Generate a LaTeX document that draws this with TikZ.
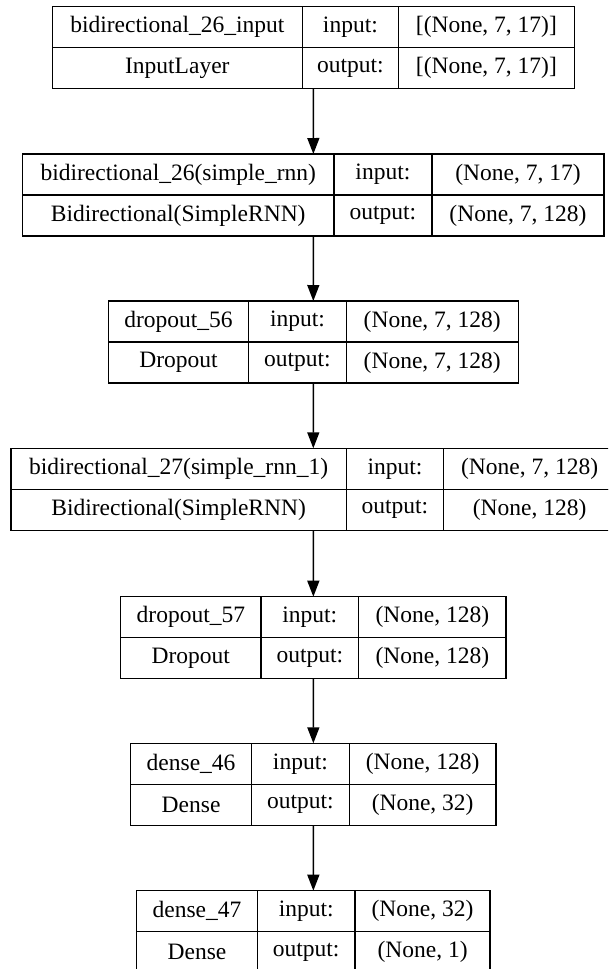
\documentclass[tikz,border=0pt]{standalone}
\usepackage{fontspec}
\setmainfont{Liberation Serif}
\newfontfamily\layerfont{LiberationSerif-Regular.ttf}
\usetikzlibrary{arrows.meta,fit,positioning}
\tikzset{
  cell/.style={draw,line width=1.4pt,minimum height=41pt,inner sep=0pt,outer sep=0pt},
  layerbox/.style={inner sep=0pt,outer sep=0pt},
  flow/.style={->,line width=1.4pt},
}
\begin{document}
\begin{tikzpicture}[x=1pt,y=-1pt,>={Triangle[length=16pt 0,width=12pt 0]},font=\layerfont\fontsize{23.5}{26}\selectfont,node distance=0pt]
    \clip (0,0) rectangle (608,969);
    \fill[white] (0,0) rectangle (608,969);
    % input layer
    \node[cell,anchor=north west,minimum width=250pt] (inpname) at (52.3,6.7) {bidirectional\_26\_input};
    \node[cell,minimum width=96.2pt,right=of inpname] (inpin) {input:};
    \node[cell,minimum width=175.8pt,right=of inpin] (inpishape) {[(None, 7, 17)]};
    \node[cell,minimum width=250pt,below=of inpname] (inpcls) {InputLayer};
    \node[cell,minimum width=96.2pt,below=of inpin] (inpout) {output:};
    \node[cell,minimum width=175.8pt,below=of inpishape] (inposhape) {[(None, 7, 17)]};
    \node[layerbox,fit=(inpname)(inposhape)] (inp) {};
    % bidirectional_26
    \node[cell,anchor=north west,minimum width=311.1pt] (bidaname) at (22.7,154) {bidirectional\_26(simple\_rnn)};
    \node[cell,minimum width=98.2pt,right=of bidaname] (bidain) {input:};
    \node[cell,minimum width=172pt,right=of bidain] (bidaishape) {(None, 7, 17)};
    \node[cell,minimum width=311.1pt,below=of bidaname] (bidacls) {Bidirectional(SimpleRNN)};
    \node[cell,minimum width=98.2pt,below=of bidain] (bidaout) {output:};
    \node[cell,minimum width=172pt,below=of bidaishape] (bidaoshape) {(None, 7, 128)};
    \node[layerbox,fit=(bidaname)(bidaoshape)] (bida) {};
    % dropout_56
    \node[cell,anchor=north west,minimum width=140.4pt] (dropaname) at (108.3,301) {dropout\_56};
    \node[cell,minimum width=97.5pt,right=of dropaname] (dropain) {input:};
    \node[cell,minimum width=172.1pt,right=of dropain] (dropaishape) {(None, 7, 128)};
    \node[cell,minimum width=140.4pt,below=of dropaname] (dropacls) {Dropout};
    \node[cell,minimum width=97.5pt,below=of dropain] (dropaout) {output:};
    \node[cell,minimum width=172.1pt,below=of dropaishape] (dropaoshape) {(None, 7, 128)};
    \node[layerbox,fit=(dropaname)(dropaoshape)] (dropa) {};
    % bidirectional_27
    \node[cell,anchor=north west,minimum width=335.2pt] (bidbname) at (11,448.3) {bidirectional\_27(simple\_rnn\_1)};
    \node[cell,minimum width=97.5pt,right=of bidbname] (bidbin) {input:};
    \node[cell,minimum width=171.9pt,right=of bidbin] (bidbishape) {(None, 7, 128)};
    \node[cell,minimum width=335.2pt,below=of bidbname] (bidbcls) {Bidirectional(SimpleRNN)};
    \node[cell,minimum width=97.5pt,below=of bidbin] (bidbout) {output:};
    \node[cell,minimum width=171.9pt,below=of bidbishape] (bidboshape) {(None, 128)};
    \node[layerbox,fit=(bidbname)(bidboshape)] (bidb) {};
    % dropout_57
    \node[cell,anchor=north west,minimum width=140.3pt] (dropbname) at (120.7,596.7) {dropout\_57};
    \node[cell,minimum width=97.6pt,right=of dropbname] (dropbin) {input:};
    \node[cell,minimum width=147.4pt,right=of dropbin] (dropbishape) {(None, 128)};
    \node[cell,minimum width=140.3pt,below=of dropbname] (dropbcls) {Dropout};
    \node[cell,minimum width=97.6pt,below=of dropbin] (dropbout) {output:};
    \node[cell,minimum width=147.4pt,below=of dropbishape] (dropboshape) {(None, 128)};
    \node[layerbox,fit=(dropbname)(dropboshape)] (dropb) {};
    % dense_46
    \node[cell,anchor=north west,minimum width=120.8pt] (densaname) at (130.7,743.3) {dense\_46};
    \node[cell,minimum width=97.8pt,right=of densaname] (densain) {input:};
    \node[cell,minimum width=146.7pt,right=of densain] (densaishape) {(None, 128)};
    \node[cell,minimum width=120.8pt,below=of densaname] (densacls) {Dense};
    \node[cell,minimum width=97.8pt,below=of densain] (densaout) {output:};
    \node[cell,minimum width=146.7pt,below=of densaishape] (densaoshape) {(None, 32)};
    \node[layerbox,fit=(densaname)(densaoshape)] (densa) {};
    % dense_47
    \node[cell,anchor=north west,minimum width=120.6pt] (densbname) at (136.7,890.7) {dense\_47};
    \node[cell,minimum width=97.8pt,right=of densbname] (densbin) {input:};
    \node[cell,minimum width=134.9pt,right=of densbin] (densbishape) {(None, 32)};
    \node[cell,minimum width=120.6pt,below=of densbname] (densbcls) {Dense};
    \node[cell,minimum width=97.8pt,below=of densbin] (densbout) {output:};
    \node[cell,minimum width=134.9pt,below=of densbishape] (densboshape) {(None, 1)};
    \node[layerbox,fit=(densbname)(densboshape)] (densb) {};
    % connectors
    \draw[flow] (inp.south) -- (bida.north);
    \draw[flow] (bida.south) -- (dropa.north);
    \draw[flow] (dropa.south) -- (bidb.north);
    \draw[flow] (bidb.south) -- (dropb.north);
    \draw[flow] (dropb.south) -- (densa.north);
    \draw[flow] (densa.south) -- (densb.north);
\end{tikzpicture}
\end{document}
